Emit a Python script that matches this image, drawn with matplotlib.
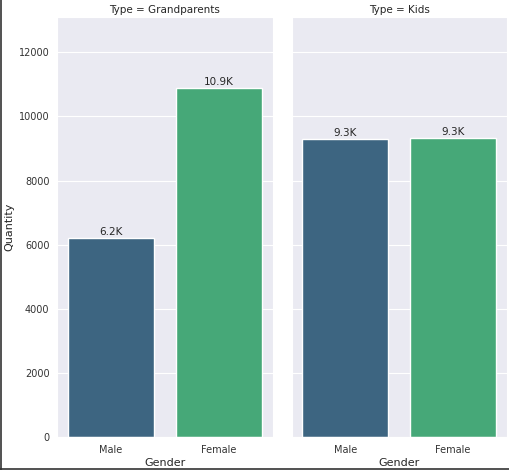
import matplotlib
matplotlib.use("Agg")
import matplotlib.pyplot as plt
import seaborn as sns
from matplotlib.lines import Line2D

sns.set_style("darkgrid")

types = ["Grandparents", "Kids"]
genders = ["Male", "Female"]
quantity = {
    "Grandparents": [6200, 10870],
    "Kids": [9290, 9320],
}
colors = ["#3d6581", "#46a878"]

fig, axes = plt.subplots(1, 2, figsize=(5.1, 4.7), dpi=100, sharey=True)
fig.subplots_adjust(left=0.112, right=0.994, top=0.964, bottom=0.070, wspace=0.088)

for ax, t in zip(axes, types):
    bars = ax.bar(genders, quantity[t], width=0.8, color=colors, edgecolor="white", linewidth=1)
    ax.bar_label(bars, labels=[f"{v / 1000:.1f}K" for v in quantity[t]], fontsize=7.5, padding=1, color="#262626")
    ax.set_title(f"Type = {t}", fontsize=7.5, pad=3, color="#262626")
    ax.set_xlabel("Gender", fontsize=8, labelpad=2, color="#262626")
    ax.set_xlim(-0.5, 1.5)
    ax.tick_params(axis="both", labelsize=7, pad=2, labelcolor="#333333")
    ax.grid(axis="x", visible=False)

axes[0].set_ylim(0, 13100)
axes[0].set_yticks([0, 2000, 4000, 6000, 8000, 10000, 12000])
axes[0].set_ylabel("Quantity", fontsize=8, labelpad=3, color="#262626")
axes[1].tick_params(axis="y", left=False, labelleft=False)

# screenshot border on left and bottom
fig.add_artist(Line2D([0.001, 0.001], [0, 1], transform=fig.transFigure, color="#333333", linewidth=1.2))
fig.add_artist(Line2D([0, 1], [0.002, 0.002], transform=fig.transFigure, color="#333333", linewidth=1.2))

fig.savefig("out.png", dpi=100)
